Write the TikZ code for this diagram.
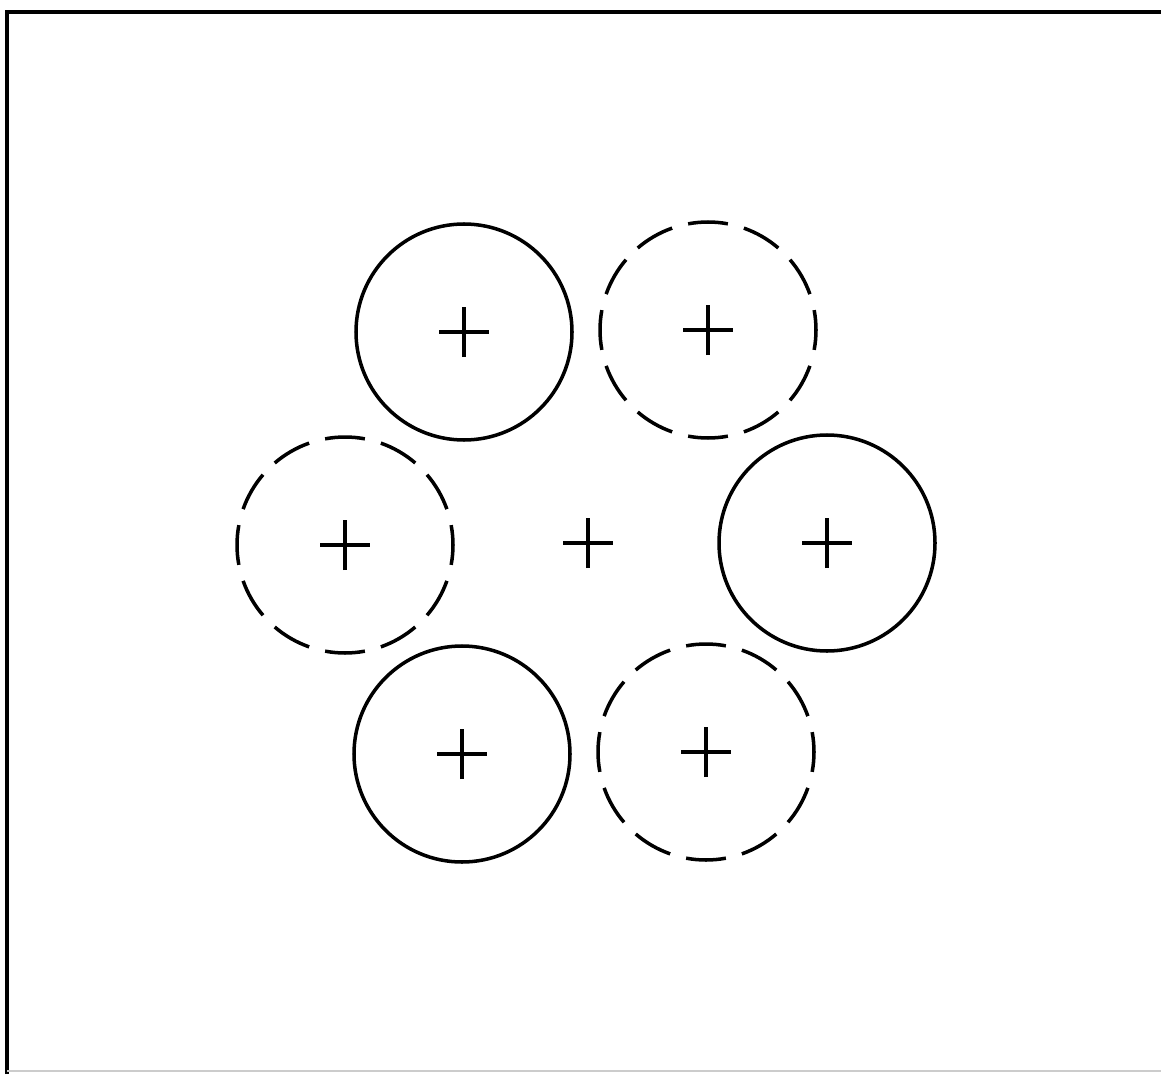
\documentclass[tikz,border=0pt]{standalone}
\begin{document}
\begin{tikzpicture}[x=0.03cm,y=-0.03cm,
  ring/.style={circle,draw=black,line width=3pt,inner sep=0pt,outer sep=0pt,minimum size=216*0.03cm},
  dashring/.style={ring,draw=none},
  dashseg/.style={line width=3pt,line cap=butt},
  crossline/.style={line width=3pt,line cap=butt}]
\useasboundingbox (0,0) rectangle (1161,1074);
\fill[white] (0,0) rectangle (1161,1074);
% frame
\draw[line width=3.6pt] (7,1074) -- (7,12) -- (1161,12);
\draw[line width=1.2pt,black!20] (7,1071) -- (1161,1071);
% circles
\node[ring] (a) at (464,332) {};
\node[dashring] (b) at (708,330) {};
\node[dashring] (c) at (345,545) {};
\node[ring] (d) at (827,543) {};
\node[ring] (e) at (462,754) {};
\node[dashring] (f) at (706,752) {};
\coordinate (o) at (588,543);
% dashed outlines: 12 dashes each, centred on multiples of 30 degrees
\foreach \n in {b,c,f}{
  \foreach \k in {0,...,11}{
    \draw[dashseg] (\n.center) ++({\k*30-10.6}:108) arc[start angle={\k*30-10.6},end angle={\k*30+10.6},radius=108];
  }
}
% crosses
\foreach \n in {a,b,c,d,e,f,o}{
  \draw[crossline] ([xshift=-25*0.03cm]\n.center) -- ([xshift=25*0.03cm]\n.center);
  \draw[crossline] ([yshift=-25*0.03cm]\n.center) -- ([yshift=25*0.03cm]\n.center);
}
\end{tikzpicture}
\end{document}
